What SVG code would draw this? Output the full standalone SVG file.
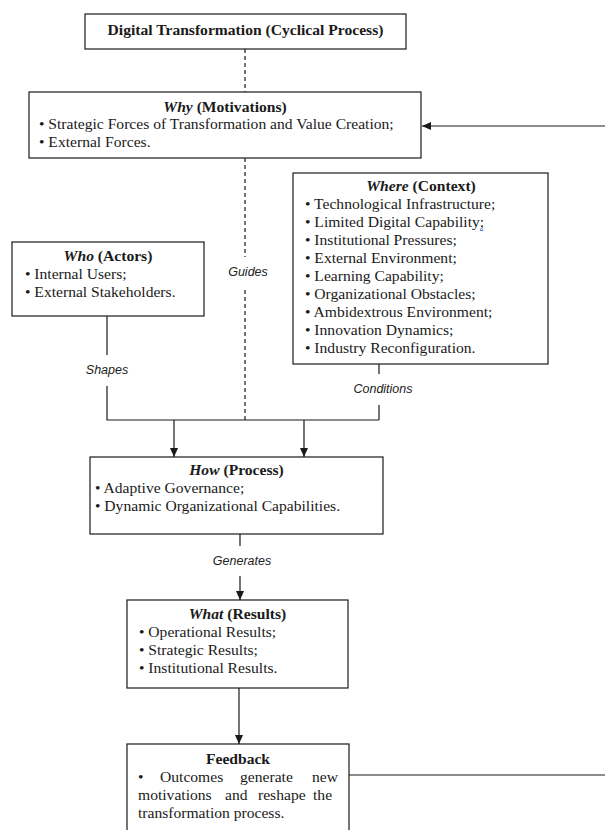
<svg xmlns="http://www.w3.org/2000/svg" width="605" height="830" viewBox="0 0 605 830">
  <style>
    .box { fill: #ffffff; stroke: #1a1a1a; stroke-width: 1.2; }
    .txt { font-family: "Liberation Serif", "Times New Roman", serif; font-size: 15.6px; fill: #1a1a1a; }
    .ttl { font-weight: bold; text-anchor: middle; }
    .lbl { font-family: "Liberation Sans", Arial, sans-serif; font-style: italic; font-size: 12.5px; fill: #222; text-anchor: middle; }
    .ln { fill: none; stroke: #1a1a1a; stroke-width: 1.2; }
    .dash { fill: none; stroke: #1a1a1a; stroke-width: 1.2; stroke-dasharray: 4 3; }
  </style>
  <defs>
    <marker id="arr" viewBox="0 0 9 8" refX="9" refY="4" markerWidth="9" markerHeight="8" markerUnits="userSpaceOnUse" orient="auto">
      <path d="M0,0 L9,4 L0,8 z" fill="#1a1a1a"/>
    </marker>
  </defs>

  <rect width="605" height="830" fill="#ffffff"/>

  <!-- connectors -->
  <g id="connectors">
    <!-- guide line from the title down to the process junction -->
    <path class="dash" d="M245,49 V92"/>
    <path class="dash" d="M245,158 V257"/>
    <path class="dash" d="M245,290 V420"/>
    <text class="lbl" x="248" y="276">Guides</text>

    <!-- actors shape the process -->
    <path class="ln" d="M107,316 V355"/>
    <text class="lbl" x="107" y="374">Shapes</text>
    <path class="ln" d="M107,386 V420 H379"/>

    <!-- context conditions the process -->
    <path class="ln" d="M379,364 V374"/>
    <text class="lbl" x="383" y="393">Conditions</text>
    <path class="ln" d="M379,405 V420"/>

    <!-- junction into How -->
    <path class="ln" d="M174,420 V457" marker-end="url(#arr)"/>
    <path class="ln" d="M304,420 V457" marker-end="url(#arr)"/>

    <!-- How generates What -->
    <path class="ln" d="M240,534 V546"/>
    <text class="lbl" x="242" y="565">Generates</text>
    <path class="ln" d="M240,576 V600" marker-end="url(#arr)"/>

    <!-- What to Feedback -->
    <path class="ln" d="M239,688 V744" marker-end="url(#arr)"/>

    <!-- feedback loop back to Why -->
    <path class="ln" d="M349,775 H605"/>
    <path class="ln" d="M605,126 H422" marker-end="url(#arr)"/>
  </g>

  <!-- title -->
  <g id="title">
    <rect class="box" x="85" y="14" width="321" height="35"/>
    <text class="txt ttl" x="245.5" y="35">Digital Transformation (Cyclical Process)</text>
  </g>

  <!-- Why -->
  <g id="why">
    <rect class="box" x="29" y="92" width="392" height="66"/>
    <text class="txt ttl" x="225" y="112"><tspan font-style="italic">Why</tspan> (Motivations)</text>
    <text class="txt" x="39" y="129">• Strategic Forces of Transformation and Value Creation;</text>
    <text class="txt" x="39" y="147">• External Forces.</text>
  </g>

  <!-- Where -->
  <g id="where">
    <rect class="box" x="293" y="173" width="255" height="191"/>
    <text class="txt ttl" x="421" y="191"><tspan font-style="italic">Where</tspan> (Context)</text>
    <text class="txt" x="305" y="209">• Technological Infrastructure;</text>
    <text class="txt" x="305" y="227">• Limited Digital Capability;</text>
    <path d="M480,229.5 q1.5,2 3,0" fill="none" stroke="#3355dd" stroke-width="1.2"/>
    <text class="txt" x="305" y="245">• Institutional Pressures;</text>
    <text class="txt" x="305" y="263">• External Environment;</text>
    <text class="txt" x="305" y="281">• Learning Capability;</text>
    <text class="txt" x="305" y="299">• Organizational Obstacles;</text>
    <text class="txt" x="305" y="317">• Ambidextrous Environment;</text>
    <text class="txt" x="305" y="335">• Innovation Dynamics;</text>
    <text class="txt" x="305" y="353">• Industry Reconfiguration.</text>
  </g>

  <!-- Who -->
  <g id="who">
    <rect class="box" x="12" y="242" width="192" height="74"/>
    <text class="txt ttl" x="108" y="261"><tspan font-style="italic">Who</tspan> (Actors)</text>
    <text class="txt" x="25" y="279">• Internal Users;</text>
    <text class="txt" x="25" y="297">• External Stakeholders.</text>
  </g>

  <!-- How -->
  <g id="how">
    <rect class="box" x="90" y="457" width="293" height="77"/>
    <text class="txt ttl" x="236.5" y="475"><tspan font-style="italic">How</tspan> (Process)</text>
    <text class="txt" x="95" y="493">• Adaptive Governance;</text>
    <text class="txt" x="95" y="511">• Dynamic Organizational Capabilities.</text>
  </g>

  <!-- What -->
  <g id="what">
    <rect class="box" x="127" y="600" width="221" height="88"/>
    <text class="txt ttl" x="237.5" y="619"><tspan font-style="italic">What</tspan> (Results)</text>
    <text class="txt" x="139" y="637">• Operational Results;</text>
    <text class="txt" x="139" y="655">• Strategic Results;</text>
    <text class="txt" x="139" y="673">• Institutional Results.</text>
  </g>

  <!-- Feedback -->
  <g id="feedback">
    <rect class="box" x="127" y="744" width="222" height="100"/>
    <text class="txt ttl" x="238" y="764">Feedback</text>
    <text class="txt" y="782"><tspan x="138">•</tspan><tspan x="160">Outcomes</tspan><tspan x="240">generate</tspan><tspan x="312">new</tspan></text>
    <text class="txt" y="800"><tspan x="138">motivations</tspan><tspan x="225">and</tspan><tspan x="258">reshape</tspan><tspan x="313">the</tspan></text>
    <text class="txt" x="138" y="818">transformation process.</text>
  </g>
</svg>
